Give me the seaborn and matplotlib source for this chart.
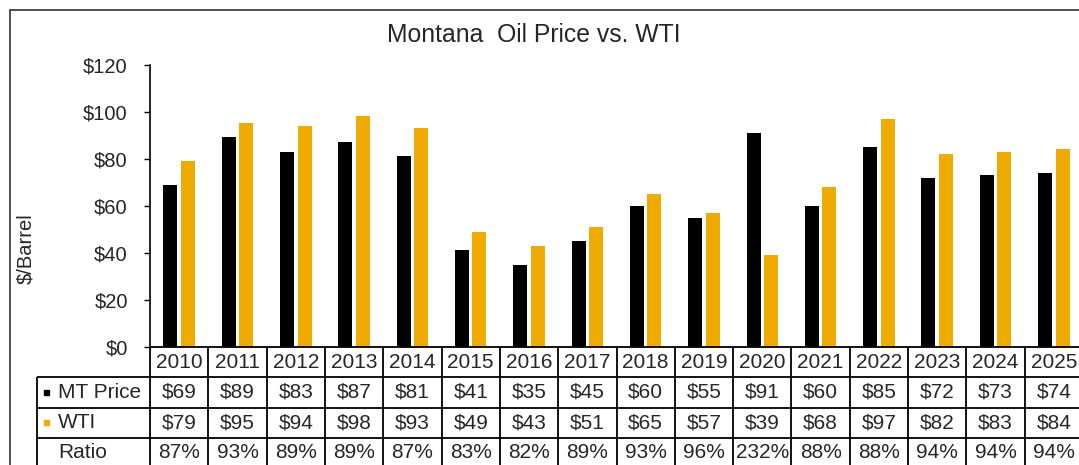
import numpy as np
import pandas as pd
import matplotlib.pyplot as plt
import matplotlib.patches as mpatches
import seaborn as sns

# Datos
years = ["2010", "2011", "2012", "2013", "2014", "2015", "2016", "2017",
         "2018", "2019", "2020", "2021", "2022", "2023", "2024", "2025"]
mt_price = [69, 89, 83, 87, 81, 41, 35, 45, 60, 55, 91, 60, 85, 72, 73, 74]
wti_price = [79, 95, 94, 98, 93, 49, 43, 51, 65, 57, 39, 68, 97, 82, 83, 84]
ratio = [87, 93, 89, 89, 87, 83, 82, 89, 93, 96, 232, 88, 88, 94, 94, 94]

series_names = ["MT Price", "WTI"]
colors = ["#000000", "#F0AB00"]

data = pd.DataFrame({
    "year": years * 2,
    "price": mt_price + wti_price,
    "series": [series_names[0]] * len(years) + [series_names[1]] * len(years),
})

sns.set_style("white")
plt.rcParams["font.family"] = ["Liberation Sans", "DejaVu Sans"]

W, H = 1079, 465
fig = plt.figure(figsize=(W / 100, H / 100), dpi=100)

# Ejes de las barras
ax = fig.add_axes([150 / W, (H - 347) / H, 933 / W, 282.5 / H])
sns.barplot(data=data, x="year", y="price", hue="series", hue_order=series_names,
            palette=colors, width=0.6, gap=0.2, legend=False, ax=ax,
            edgecolor="none", saturation=1)
ax.set_xlim(-0.5, len(years) - 0.5)
ax.set_ylim(0, 120)
ax.set_yticks(np.arange(0, 121, 20))
ax.set_yticklabels([f"${v}" for v in range(0, 121, 20)], fontsize=14.5)
ax.tick_params(axis="y", direction="out", length=4, width=1, color="black", pad=12, left=True)
ax.set_xticks([])
ax.set_xlabel("")
ax.set_ylabel("$/Barrel", fontsize=14.5)
ax.yaxis.set_label_coords(-0.1233, 0.347)
for side in ["top", "right", "bottom"]:
    ax.spines[side].set_visible(False)
ax.spines["left"].set_color("black")
ax.spines["left"].set_linewidth(1.2)

# Tabla de datos debajo del grafico
axt = fig.add_axes([150 / W, (H - 468) / H, 933 / W, 121 / H])
axt.set_xlim(-0.5, len(years) - 0.5)
axt.set_ylim(4, 0)
axt.axis("off")

n = len(years)
left_x = -2.437
lw = 1.3
axt.hlines(0, -0.5, n - 0.5, color="black", lw=lw, clip_on=False)
for r in [1, 2, 3]:
    axt.hlines(r, left_x, n - 0.5, color="black", lw=lw, clip_on=False)
for c in range(n + 1):
    axt.vlines(c - 0.5, 0, 4, color="black", lw=lw, clip_on=False)
axt.vlines(left_x, 1, 4, color="black", lw=lw, clip_on=False)

rows = [
    [f"${v}" for v in mt_price],
    [f"${v}" for v in wti_price],
    [f"{v}%" for v in ratio],
]
for i, y in enumerate(years):
    axt.text(i, 0.5, y, ha="center", va="center", fontsize=15, clip_on=False)
    for r, vals in enumerate(rows):
        axt.text(i, r + 1.5, vals[i], ha="center", va="center", fontsize=15, clip_on=False)

labels = ["MT Price", "WTI", "Ratio"]
for r, lab in enumerate(labels):
    axt.text(-2.077, r + 1.5, lab, ha="left", va="center", fontsize=15, clip_on=False)
for r, col in enumerate(colors):
    axt.add_patch(mpatches.Rectangle((-2.31, r + 1.5 - 0.09), 0.085, 0.18,
                                     color=col, clip_on=False))

# Titulo y marco exterior
fig.text(533.5 / W, 1 - 35 / H, "Montana  Oil Price vs. WTI", ha="center", va="center", fontsize=17.8)
fig.add_artist(mpatches.Rectangle((9.5 / W, -20 / H), 1100 / W, (H - 10.5 + 20) / H,
                                  transform=fig.transFigure, fill=False,
                                  edgecolor="#333333", lw=1.2, clip_on=False))

fig.savefig("out.png", dpi=100)
